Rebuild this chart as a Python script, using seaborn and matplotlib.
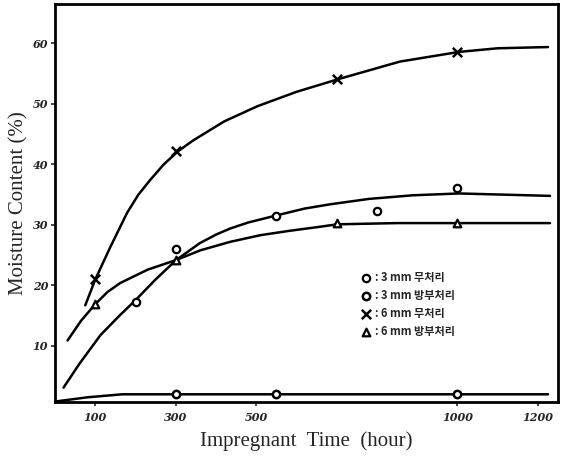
import numpy as np
import pandas as pd
import matplotlib
matplotlib.use("Agg")
import matplotlib.pyplot as plt
import seaborn as sns

# ? datos --------------------------------------------------------------------

etiquetas = [": 3 mm 무처리", ": 3 mm 방부처리", ": 6 mm 무처리", ": 6 mm 방부처리"]

# puntos medidos
circ_x = [200, 300, 550, 800, 1000]
circ_y = [17.2, 26.0, 31.5, 32.3, 36.1]
cuad_x = [300, 550, 1000]
cuad_y = [2.0, 2.0, 2.0]
cruz_x = [100, 300, 700, 1000]
cruz_y = [21.0, 42.2, 54.1, 58.6]
tri_x = [100, 300, 700, 1000]
tri_y = [16.9, 24.2, 30.3, 30.3]

# curvas ajustadas (dibujadas a mano en el original)
curva_circ_x = [21, 60, 113, 160, 199, 250, 301, 360, 400, 435, 480, 552, 620, 683, 780, 890, 1004, 1230]
curva_circ_y = [3.1, 7.0, 11.8, 15.0, 17.5, 21.0, 24.2, 27.0, 28.4, 29.4, 30.4, 31.6, 32.7, 33.4, 34.3, 34.9, 35.2, 34.8]
curva_cuad_x = [0, 80, 167, 600, 1225]
curva_cuad_y = [0.8, 1.5, 2.0, 2.0, 2.0]
curva_cruz_x = [75, 100, 137, 179, 207, 236, 270, 306, 344, 420, 502, 600, 704, 857, 1004, 1100, 1225]
curva_cruz_y = [16.7, 21.0, 26.3, 32.0, 35.0, 37.4, 40.0, 42.2, 44.0, 47.1, 49.6, 52.0, 54.1, 57.0, 58.6, 59.2, 59.4]
curva_tri_x = [31, 65, 100, 130, 162, 230, 301, 361, 435, 510, 580, 659, 701, 850, 1004, 1230]
curva_tri_y = [10.9, 14.2, 16.9, 18.9, 20.4, 22.6, 24.2, 25.8, 27.2, 28.3, 29.0, 29.7, 30.1, 30.3, 30.3, 30.3]

xticks = [100, 300, 500, 1000, 1200]
yticks = [10, 20, 30, 40, 50, 60]

# ? estilo ------------------------------------------------------------------

sns.set_style("ticks")
plt.rcParams['font.family'] = ['Liberation Serif', 'Noto Sans CJK KR', 'DejaVu Sans']

fig = plt.figure(figsize=(5.62, 4.57), dpi=100)
ax = fig.add_axes([0.098, 0.120, 0.895, 0.871])

# curvas
for cx, cy in [(curva_circ_x, curva_circ_y), (curva_cuad_x, curva_cuad_y),
               (curva_cruz_x, curva_cruz_y), (curva_tri_x, curva_tri_y)]:
    sns.lineplot(x=cx, y=cy, ax=ax, color="black", linewidth=1.8, sort=False)

# puntos
sns.scatterplot(x=circ_x, y=circ_y, ax=ax, marker="o", s=28, facecolor="white",
                edgecolor="black", linewidth=1.6, label=etiquetas[0], zorder=5)
sns.scatterplot(x=cuad_x, y=cuad_y, ax=ax, marker="o", s=28, facecolor="white",
                edgecolor="black", linewidth=1.8, label=etiquetas[1], zorder=5)
sns.scatterplot(x=cruz_x, y=cruz_y, ax=ax, marker="x", s=45, color="black",
                linewidth=1.8, label=etiquetas[2], zorder=5)
sns.scatterplot(x=tri_x, y=tri_y, ax=ax, marker="^", s=30, facecolor="white",
                edgecolor="black", linewidth=1.6, label=etiquetas[3], zorder=5)

ax.set_xlim(0, 1250)
ax.set_ylim(0.7, 66.5)
ax.set_xticks(xticks)
ax.set_xticklabels([str(t) for t in xticks], fontsize=8, fontweight="bold",
                   fontstyle="italic", family=["DejaVu Serif"])
ax.set_yticks(yticks)
ax.set_yticklabels([str(t) for t in yticks], fontsize=8, fontweight="bold",
                   fontstyle="italic", family=["DejaVu Serif"])
ax.tick_params(axis="x", direction="out", length=3, width=1.2, pad=4)
ax.tick_params(axis="y", direction="out", length=3, width=1.2, pad=2)

for s in ax.spines.values():
    s.set_linewidth(2)
    s.set_color("black")

ax.set_xlabel("Impregnant  Time  (hour)", fontsize=15, labelpad=6)
ax.set_ylabel("Moisture Content (%)", fontsize=15, labelpad=3)

leg = ax.legend(loc="upper left", bbox_to_anchor=(0.585, 0.355), frameon=False,
                prop={"family": ["Noto Sans CJK KR"], "size": 8, "weight": "bold"},
                handletextpad=0.2, labelspacing=0.45, handlelength=1.2)

plt.savefig("out.png", dpi=100)
